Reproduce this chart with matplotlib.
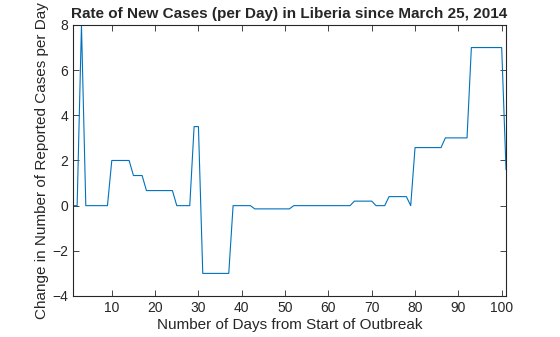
import numpy as np
import matplotlib
matplotlib.use("Agg")
import matplotlib.pyplot as plt

plt.rcParams['font.family'] = ['Liberation Sans', 'DejaVu Sans']

# daily rate of new cases, day 1..101
days = np.arange(1, 102)
rate = ([0, 0, 8, 0, 0, 0, 0, 0, 0, 2, 2, 2, 2, 2, 1.333, 1.333, 1.333]
        + [0.667] * 7
        + [0, 0, 0, 0, 3.5, 3.5]
        + [-3] * 7
        + [0] * 5
        + [-0.143] * 9
        + [0] * 14
        + [0.2] * 5
        + [0, 0, 0]
        + [0.4] * 5
        + [0]
        + [2.571] * 7
        + [3.0] * 6
        + [7.0] * 8
        + [1.6])

txt = '#262626'
fig = plt.figure(figsize=(5.6, 3.37), dpi=100)
ax = fig.add_axes([0.13, 0.1217, 0.7736, 0.8042])
ax.plot(days, rate, color='#0072BD', linewidth=0.8)
ax.set_xlim(1, 101)
ax.set_ylim(-4, 8)
ax.set_xticks(range(10, 101, 10))
ax.set_yticks(range(-4, 9, 2))
ax.tick_params(direction='in', top=True, right=True, length=4, width=0.6,
               labelsize=10, colors=txt)
for s in ax.spines.values():
    s.set_linewidth(0.8)
    s.set_color(txt)
ax.set_title('Rate of New Cases (per Day) in Liberia since March 25, 2014',
             fontsize=11, fontweight='bold', color=txt, pad=5)
ax.set_xlabel('Number of Days from Start of Outbreak', fontsize=11, color=txt, labelpad=2)
ax.set_ylabel('Change in Number of Reported Cases per Day', fontsize=11, color=txt, labelpad=2)
fig.savefig('out.png', dpi=100)
